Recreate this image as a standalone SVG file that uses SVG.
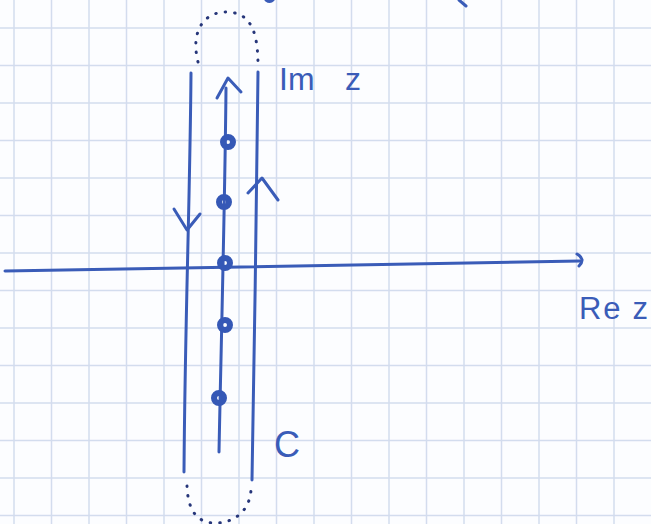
<svg xmlns="http://www.w3.org/2000/svg" width="651" height="524" viewBox="0 0 651 524">
<defs>
<style>
.grid line{stroke:#d3dcee;stroke-width:1.5}
.ink{fill:none;stroke:#3a5cb8;stroke-width:3;stroke-linecap:round;stroke-linejoin:round}
.dots{fill:none;stroke:#26367a;stroke-width:3;stroke-linecap:round;stroke-dasharray:0.5 9}
.dot{fill:none;stroke:#3558b6;stroke-width:6}
.lbl{fill:#3a5cb8;font-family:"Liberation Sans",Arial,sans-serif}
</style>
</defs>
<rect width="651" height="524" fill="#fcfdff"/>
<g class="grid">
<line x1="14" y1="0" x2="14" y2="524"/><line x1="51.5" y1="0" x2="51.5" y2="524"/><line x1="89" y1="0" x2="89" y2="524"/><line x1="126.5" y1="0" x2="126.5" y2="524"/><line x1="164" y1="0" x2="164" y2="524"/><line x1="201.5" y1="0" x2="201.5" y2="524"/><line x1="239" y1="0" x2="239" y2="524"/><line x1="276.5" y1="0" x2="276.5" y2="524"/><line x1="314" y1="0" x2="314" y2="524"/><line x1="351.5" y1="0" x2="351.5" y2="524"/><line x1="389" y1="0" x2="389" y2="524"/><line x1="426.5" y1="0" x2="426.5" y2="524"/><line x1="464" y1="0" x2="464" y2="524"/><line x1="501.5" y1="0" x2="501.5" y2="524"/><line x1="539" y1="0" x2="539" y2="524"/><line x1="576.5" y1="0" x2="576.5" y2="524"/><line x1="614" y1="0" x2="614" y2="524"/>
<line x1="0" y1="28" x2="651" y2="28"/><line x1="0" y1="65.5" x2="651" y2="65.5"/><line x1="0" y1="103" x2="651" y2="103"/><line x1="0" y1="140.5" x2="651" y2="140.5"/><line x1="0" y1="178" x2="651" y2="178"/><line x1="0" y1="215.5" x2="651" y2="215.5"/><line x1="0" y1="253" x2="651" y2="253"/><line x1="0" y1="290.5" x2="651" y2="290.5"/><line x1="0" y1="328" x2="651" y2="328"/><line x1="0" y1="365.5" x2="651" y2="365.5"/><line x1="0" y1="403" x2="651" y2="403"/><line x1="0" y1="440.5" x2="651" y2="440.5"/><line x1="0" y1="478" x2="651" y2="478"/><line x1="0" y1="515.5" x2="651" y2="515.5"/>
</g>
<g id="fragments">
<path class="ink" d="M266,0 Q270,3 273,0"/>
<path class="ink" d="M459,0 L466,6"/>
</g>
<g id="connectors">
<path id="real-axis" class="ink" d="M5,271 C200,268 400,264 580,261"/>
<path class="ink" d="M577,254 Q586,259 579,266"/>
<path id="left-line" class="ink" d="M191,73 C190,200 185,320 184,472"/>
<path class="ink" d="M174,209 L187,230 L200,214"/>
<path id="middle-line" class="ink" d="M219,452 C221,350 225,200 226,88"/>
<path class="ink" d="M217,98 L228,78 L241,92"/>
<path id="right-line" class="ink" d="M258,72 C257,200 254,350 252,480"/>
<path class="ink" d="M248,193 L262,178 L278,200"/>
<path id="top-arc" class="dots" d="M198,62 C190,30 205,12 226,12 C250,12 258,30 258,66"/>
<path id="bottom-arc" class="dots" d="M187,486 C188,512 198,524 218,523 C240,521 250,506 251,490"/>
</g>
<g id="pole1"><circle class="dot" cx="228" cy="142" r="5"/></g>
<g id="pole2"><circle class="dot" cx="224" cy="202" r="5"/></g>
<g id="pole3"><circle class="dot" cx="225" cy="263" r="5"/></g>
<g id="pole4"><circle class="dot" cx="225" cy="325" r="5"/></g>
<g id="pole5"><circle class="dot" cx="219" cy="398" r="5"/></g>
<g id="labels">
<text class="lbl" x="279" y="90" font-size="32">Im <tspan x="345">z</tspan></text>
<text class="lbl" x="579" y="319" font-size="31" textLength="69" lengthAdjust="spacing">Re z</text>
<text class="lbl" x="274" y="457" font-size="36">C</text>
</g>
</svg>
